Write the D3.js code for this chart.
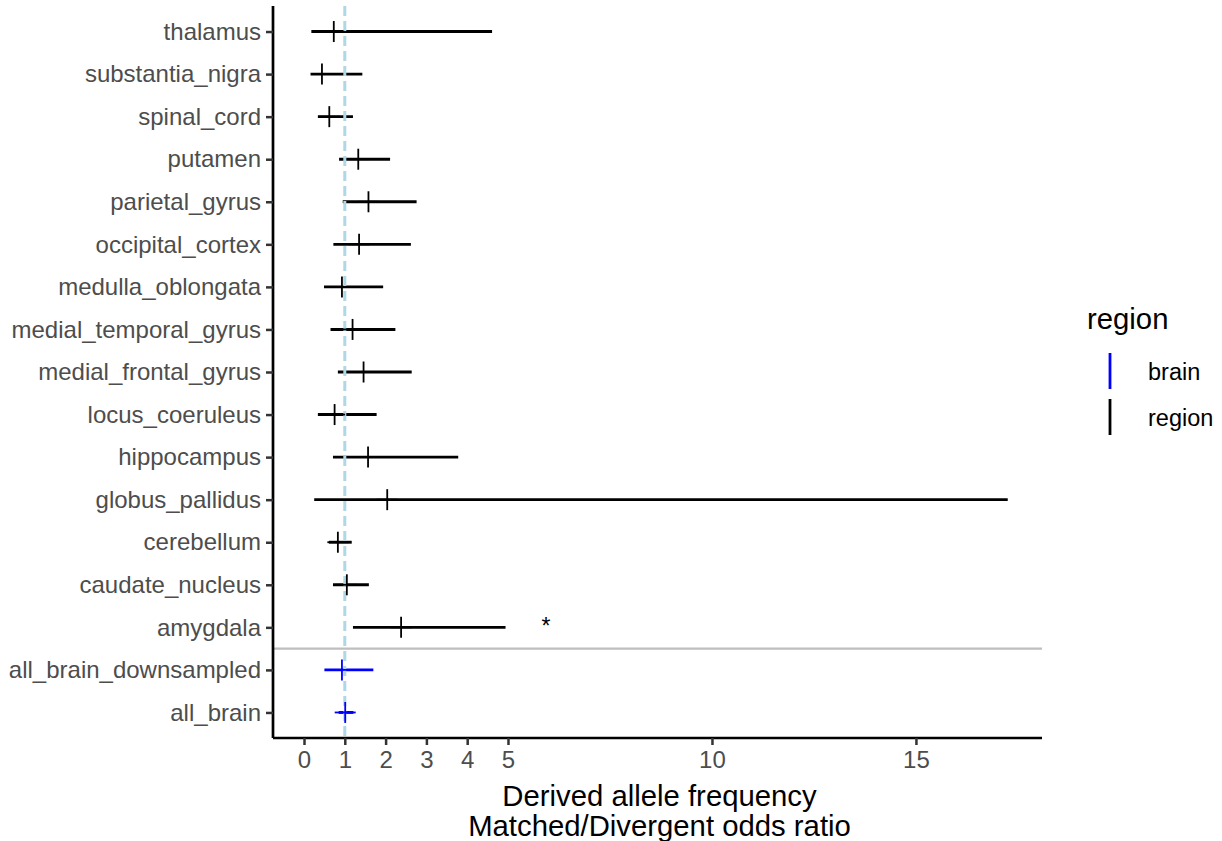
<!DOCTYPE html>
<html>
<head>
<meta charset="utf-8">
<script src="https://cdn.jsdelivr.net/npm/d3@7"></script>
<style>
  html, body { margin: 0; padding: 0; background: #ffffff; }
  svg { display: block; font-family: "Liberation Sans", Arial, Helvetica, sans-serif; }
</style>
</head>
<body>
<svg id="chart" width="1222" height="841"></svg>
<script>
// Tissue categories, top to bottom
const tissues = [
  "thalamus", "substantia_nigra", "spinal_cord", "putamen", "parietal_gyrus",
  "occipital_cortex", "medulla_oblongata", "medial_temporal_gyrus",
  "medial_frontal_gyrus", "locus_coeruleus", "hippocampus", "globus_pallidus",
  "cerebellum", "caudate_nucleus", "amygdala", "all_brain_downsampled", "all_brain"
];
// Grouping of each tissue (legend variable)
const groups = [
  "region", "region", "region", "region", "region",
  "region", "region", "region",
  "region", "region", "region", "region",
  "region", "region", "region", "brain", "brain"
];
// Odds ratio estimates
const oddsRatio = [
  0.73, 0.44, 0.62, 1.33, 1.58,
  1.35, 0.93, 1.19,
  1.46, 0.75, 1.57, 2.04,
  0.83, 1.05, 2.38, 0.93, 1.01
];
// Lower confidence bounds
const ciLow = [
  0.18, 0.16, 0.34, 0.86, 0.95,
  0.72, 0.49, 0.65,
  0.83, 0.34, 0.71, 0.25,
  0.61, 0.71, 1.20, 0.50, 0.85
];
// Upper confidence bounds
const ciHigh = [
  4.61, 1.43, 1.20, 2.11, 2.76,
  2.62, 1.94, 2.24,
  2.64, 1.78, 3.78, 17.25,
  1.17, 1.59, 4.94, 1.70, 1.21
];
// Significance marks
const sigTissues = ["amygdala"];
const sigX = [5.93];
const sigLabel = ["*"];

const xTicks = [0, 1, 2, 3, 4, 5, 10, 15];
const legendLevels = ["brain", "region"];
const legendColors = ["#0000ff", "#000000"];
const refLine = 1;

const rows = tissues.map((t, i) => ({
  tissue: t, group: groups[i], or: oddsRatio[i], lo: ciLow[i], hi: ciHigh[i]
}));

const svg = d3.select("#chart");
const panel = { left: 273, right: 1042, top: 6, bottom: 738 };

const x = d3.scaleLinear().domain([-0.76, 18.09]).range([panel.left, panel.right]);
const y = d3.scalePoint().domain(tissues).range([panel.top, panel.bottom]).padding(0.6);
const color = d3.scaleOrdinal().domain(legendLevels).range(legendColors);

// Separator between single regions and pooled brain rows
const sepY = (y("amygdala") + y("all_brain_downsampled")) / 2;
svg.append("line")
  .attr("x1", panel.left).attr("x2", panel.right)
  .attr("y1", sepY).attr("y2", sepY)
  .attr("stroke", "#bebebe").attr("stroke-width", 2.4);

// Confidence intervals
svg.append("g").selectAll("line").data(rows).join("line")
  .attr("x1", d => x(d.lo)).attr("x2", d => x(d.hi))
  .attr("y1", d => y(d.tissue)).attr("y2", d => y(d.tissue))
  .attr("stroke", d => color(d.group)).attr("stroke-width", 2.9);

// Reference line at odds ratio 1
svg.append("line")
  .attr("x1", x(refLine)).attr("x2", x(refLine))
  .attr("y1", panel.top).attr("y2", panel.bottom)
  .attr("stroke", "#add8e6").attr("stroke-width", 3)
  .attr("stroke-dasharray", "10,5");

// Point estimates drawn as "+"
const pts = svg.append("g").selectAll("g").data(rows).join("g")
  .attr("transform", d => `translate(${x(d.or)},${y(d.tissue)})`);
pts.append("line").attr("x1", 0).attr("x2", 0).attr("y1", -10.5).attr("y2", 10.5)
  .attr("stroke", d => color(d.group)).attr("stroke-width", 1.8);
pts.append("line").attr("x1", -10.5).attr("x2", 10.5).attr("y1", 0).attr("y2", 0)
  .attr("stroke", d => color(d.group)).attr("stroke-width", 1.8);

// Significance labels
svg.append("g").selectAll("text").data(sigTissues).join("text")
  .attr("x", (d, i) => x(sigX[i])).attr("y", d => y(d) + 7)
  .attr("text-anchor", "middle")
  .attr("font-size", 23).attr("fill", "#000")
  .text((d, i) => sigLabel[i]);

// Axes
const xAxis = svg.append("g").attr("transform", `translate(0,${panel.bottom})`)
  .call(d3.axisBottom(x).tickValues(xTicks).tickSize(7).tickPadding(6).tickFormat(d3.format("d")));
xAxis.select(".domain").attr("stroke", "#000").attr("stroke-width", 2.7)
  .attr("d", `M${panel.left},0H${panel.right}`);
xAxis.selectAll(".tick line").attr("stroke", "#333").attr("stroke-width", 2.5);
xAxis.selectAll(".tick text").attr("fill", "#4d4d4d").attr("font-size", 24)
  .attr("font-family", "Liberation Sans, Arial, sans-serif");

const yAxis = svg.append("g").attr("transform", `translate(${panel.left},0)`)
  .call(d3.axisLeft(y).tickSize(7).tickPadding(5));
yAxis.select(".domain").attr("stroke", "#000").attr("stroke-width", 2.7)
  .attr("d", `M0,${panel.top}V${panel.bottom}`);
yAxis.selectAll(".tick line").attr("stroke", "#333").attr("stroke-width", 2.5);
yAxis.selectAll(".tick text").attr("fill", "#4d4d4d").attr("font-size", 24)
  .attr("font-family", "Liberation Sans, Arial, sans-serif");

// Axis title
const cx = (panel.left + panel.right) / 2 + 2;
svg.append("text").attr("x", cx).attr("y", 806).attr("text-anchor", "middle")
  .attr("font-size", 29.3).attr("fill", "#000").text("Derived allele frequency");
svg.append("text").attr("x", cx).attr("y", 836).attr("text-anchor", "middle")
  .attr("font-size", 29.3).attr("fill", "#000").text("Matched/Divergent odds ratio");

// Legend
const legend = svg.append("g");
legend.append("text").attr("x", 1087).attr("y", 329)
  .attr("font-size", 29.3).attr("fill", "#000").text("region");
const keyY = d3.scalePoint().domain(legendLevels).range([371, 417]);
const keys = legend.selectAll("g.key").data(legendLevels).join("g").attr("class", "key");
keys.append("line")
  .attr("x1", 1110).attr("x2", 1110)
  .attr("y1", d => keyY(d) - 18).attr("y2", d => keyY(d) + 18)
  .attr("stroke", d => color(d)).attr("stroke-width", 2.8);
keys.append("text").attr("x", 1148).attr("y", d => keyY(d) + 8.5)
  .attr("font-size", 23.5).attr("fill", "#000").text(d => d);
</script>
</body>
</html>
